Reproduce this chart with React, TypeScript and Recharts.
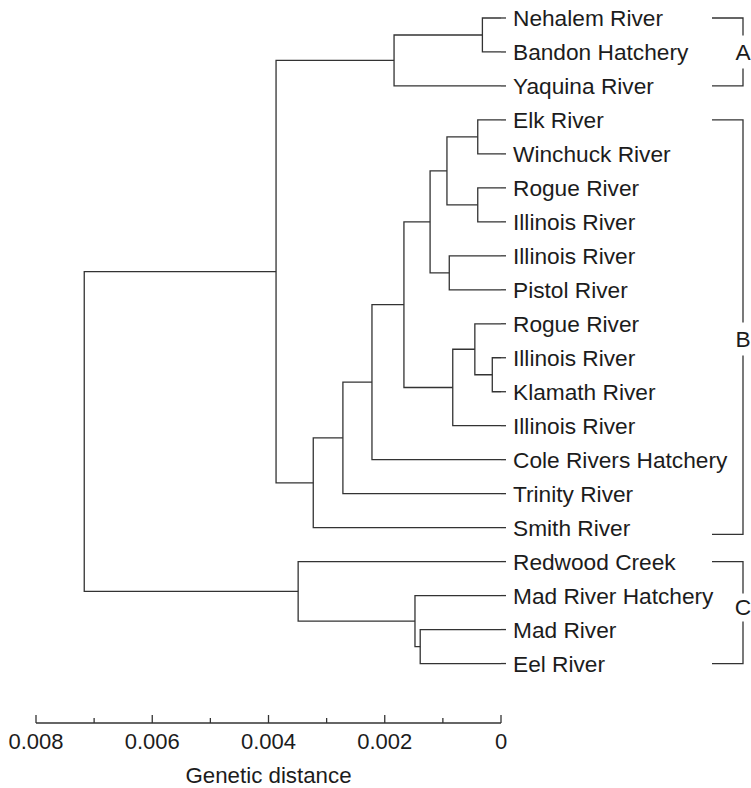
import { ComposedChart, Line, Scatter, XAxis, YAxis } from "recharts";

// leaves, top to bottom
const leafNames = [
  "Nehalem River",
  "Bandon Hatchery",
  "Yaquina River",
  "Elk River",
  "Winchuck River",
  "Rogue River",
  "Illinois River",
  "Illinois River",
  "Pistol River",
  "Rogue River",
  "Illinois River",
  "Klamath River",
  "Illinois River",
  "Cole Rivers Hatchery",
  "Trinity River",
  "Smith River",
  "Redwood Creek",
  "Mad River Hatchery",
  "Mad River",
  "Eel River",
];

// joins: [child A, child B, genetic distance]; ids 0-19 are leaves, 20+ are earlier joins
const joins: [number, number, number][] = [
  [0, 1, 0.00032], // 20
  [20, 2, 0.00184], // 21
  [3, 4, 0.0004], // 22
  [5, 6, 0.0004], // 23
  [22, 23, 0.00093], // 24
  [7, 8, 0.00089], // 25
  [24, 25, 0.00122], // 26
  [10, 11, 0.00015], // 27
  [9, 27, 0.00045], // 28
  [28, 12, 0.00083], // 29
  [26, 29, 0.00167], // 30
  [30, 13, 0.00222], // 31
  [31, 14, 0.00272], // 32
  [32, 15, 0.00323], // 33
  [21, 33, 0.00387], // 34
  [18, 19, 0.00139], // 35
  [17, 35, 0.00148], // 36
  [16, 36, 0.00349], // 37
  [34, 37, 0.00717], // 38
];

const groupLabels = ["A", "B", "C"];
const groupTop = [0, 3, 16];
const groupBottom = [2, 15.2, 19];
const groupLetterAt = [1, 9.45, 17.35];

const distanceTicks = [0, 0.001, 0.002, 0.003, 0.004, 0.005, 0.006, 0.007, 0.008];

const W = 751;
const H = 788;
const MARGIN = { top: 1, right: 250, bottom: 0, left: 36 };
const X_AXIS_H = 65;
const Y_DOMAIN: [number, number] = [-0.5, 20.75];
const PX_PER_LEAF = (H - MARGIN.top - MARGIN.bottom - X_AXIS_H) / (Y_DOMAIN[1] - Y_DOMAIN[0]);
const FONT = "'Liberation Sans', Arial, Helvetica, sans-serif";
const INK = "#333";
const TEXT = "#1c1c1c";

// positions of every node (leaf index as y, distance as x)
const nodeY: number[] = leafNames.map((_, i) => i);
const nodeX: number[] = leafNames.map(() => 0);
joins.forEach(([a, b, h]) => {
  nodeY.push((nodeY[a] + nodeY[b]) / 2);
  nodeX.push(h);
});

const branches = joins.map(([a, b, h]) => [
  { x: nodeX[a], y: nodeY[a] },
  { x: h, y: nodeY[a] },
  { x: h, y: nodeY[b] },
  { x: nodeX[b], y: nodeY[b] },
]);

const leafData = leafNames.map((name, i) => ({ x: 0, y: i, name }));
const groupData = groupLabels.map((label, i) => ({
  x: 0,
  y: groupLetterAt[i],
  label,
  top: groupTop[i],
  bottom: groupBottom[i],
}));

function LeafLabel({ cx, cy, payload }: any) {
  return (
    <g>
      <line x1={cx} x2={cx + 5} y1={cy} y2={cy} stroke={INK} strokeWidth={1.3} />
      <text x={cx + 12} y={cy + 8} fill={TEXT} fontSize={22.7} fontFamily={FONT}>
        {payload.name}
      </text>
    </g>
  );
}

function GroupBracket({ cx, cy, payload }: any) {
  const x1 = cx + 211;
  const x2 = cx + 242;
  const yTop = cy + (payload.top - payload.y) * PX_PER_LEAF;
  const yBot = cy + (payload.bottom - payload.y) * PX_PER_LEAF;
  const gap = payload.label === "C" ? 14 : 16.5;
  return (
    <g fill="none" stroke={INK} strokeWidth={1.3}>
      <polyline points={`${x1},${yTop} ${x2},${yTop} ${x2},${cy - gap}`} />
      <polyline points={`${x2},${cy + gap} ${x2},${yBot} ${x1},${yBot}`} />
      <text
        x={x2}
        y={cy + 8}
        textAnchor="middle"
        fill={TEXT}
        stroke="none"
        fontSize={22.7}
        fontFamily={FONT}
      >
        {payload.label}
      </text>
    </g>
  );
}

function DistanceTick({ x, y, payload }: any) {
  const v = payload.value as number;
  const major = Math.round(v * 1000) % 2 === 0;
  return (
    <g>
      <line x1={x} x2={x} y1={y} y2={y - (major ? 8 : 5)} stroke={INK} strokeWidth={1.3} />
      {major && (
        <text x={x} y={y + 26} textAnchor="middle" fill={TEXT} fontSize={22} fontFamily={FONT}>
          {v === 0 ? "0" : v.toFixed(3)}
        </text>
      )}
    </g>
  );
}

export default function App() {
  return (
    <div style={{ position: "absolute", left: 0, top: 0, width: W, height: H, background: "#fff", fontFamily: FONT }}>
      <ComposedChart width={W} height={H} margin={MARGIN}>
        <XAxis
          type="number"
          dataKey="x"
          domain={[0, 0.008]}
          reversed
          ticks={distanceTicks}
          interval={0}
          height={X_AXIS_H}
          tickSize={0}
          tickMargin={0}
          tickLine={false}
          tick={<DistanceTick />}
          axisLine={{ stroke: INK, strokeWidth: 1.3 }}
          label={{
            value: "Genetic distance",
            position: "insideBottom",
            offset: 5,
            fill: TEXT,
            fontSize: 22.3,
            fontFamily: FONT,
          }}
        />
        <YAxis type="number" dataKey="y" domain={Y_DOMAIN} reversed hide />
        {branches.map((pts, i) => (
          <Line
            key={i}
            data={pts}
            dataKey="y"
            type="linear"
            stroke={INK}
            strokeWidth={1.3}
            dot={false}
            activeDot={false}
            isAnimationActive={false}
          />
        ))}
        <Scatter data={leafData} shape={(p: any) => <LeafLabel {...p} />} isAnimationActive={false} />
        <Scatter data={groupData} shape={(p: any) => <GroupBracket {...p} />} isAnimationActive={false} />
      </ComposedChart>
    </div>
  );
}
